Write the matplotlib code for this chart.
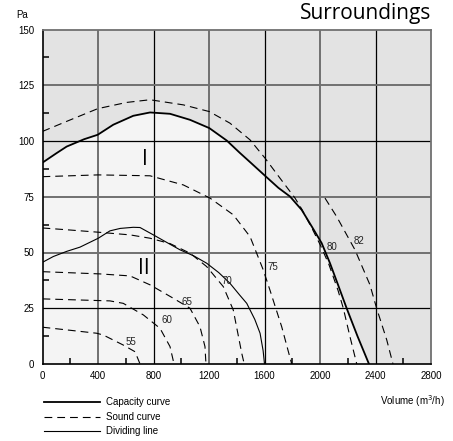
import matplotlib
matplotlib.use('Agg')
import matplotlib.pyplot as plt
from matplotlib.lines import Line2D

plt.rcParams['font.family'] = ['Liberation Sans', 'DejaVu Sans']

# capacity curve
cap_x = [0, 100, 174, 300, 398, 510, 654, 775, 919, 1063, 1202, 1328, 1420, 1500, 1604,
         1700, 1784, 1868, 1952, 2012, 2072, 2130, 2192, 2270, 2353]
cap_y = [90.3, 94.5, 97.5, 100.8, 102.8, 107.3, 111.3, 112.8, 112.2, 109.5, 105.8, 100.2,
         94.8, 90.3, 84.4, 79, 75.1, 69.1, 60.5, 54.2, 45.2, 35.5, 25, 12.5, 0]

# dividing line
div_x = [0, 78, 174, 270, 402, 486, 560, 654, 703, 799, 919, 991, 1090, 1183, 1270, 1351,
         1420, 1472, 1530, 1568, 1590, 1600]
div_y = [45.6, 48.2, 50.5, 52.4, 56.4, 59.7, 60.8, 61.3, 61.2, 57.9, 53.7, 51.2, 48.5, 45.2,
         41, 36.2, 31, 27.2, 20, 13.8, 6, 0]

# sound curves (dB)
s80_x = [0, 174, 398, 607, 775, 1015, 1202, 1351, 1496, 1555, 1604, 1712, 1820, 1868, 1945,
         2005, 2065, 2130, 2168, 2215, 2265]
s80_y = [104.3, 108.8, 114.5, 117.3, 118.5, 116.2, 113.2, 108, 100.5, 96, 92.3, 83.3, 74.4,
         69.5, 60.5, 53, 44.5, 33, 25, 12.5, 0]
s82_x = [2036, 2120, 2252, 2360, 2408, 2481, 2526]
s82_y = [74.4, 66.1, 51.2, 35.5, 25, 10.8, 0]
s75_x = [0, 400, 775, 1015, 1207, 1375, 1496, 1591, 1640, 1724, 1796]
s75_y = [84, 84.8, 84.4, 80.3, 74.4, 66.9, 57.1, 42.2, 33, 16.7, 0]
s70_x = [0, 174, 402, 631, 775, 919, 1063, 1183, 1303, 1375, 1436, 1454]
s70_y = [61, 60.2, 59.1, 57.9, 56.4, 54, 49.7, 43.7, 34.7, 24.2, 4.8, 0]
s65_x = [0, 414, 631, 775, 942, 1063, 1135, 1171, 1178]
s65_y = [41.4, 40.4, 39.5, 35.5, 29.5, 25, 16.7, 7.8, 0]
s60_x = [0, 486, 582, 727, 847, 919, 948]
s60_y = [29.2, 28.3, 27.2, 22, 16, 7.8, 0]
s55_x = [0, 390, 438, 582, 667, 703]
s55_y = [16.5, 13.8, 13, 8.5, 5.5, 0]

sound_curves = [(s80_x, s80_y), (s82_x, s82_y), (s75_x, s75_y), (s70_x, s70_y),
                (s65_x, s65_y), (s60_x, s60_y), (s55_x, s55_y)]

curve_labels = ['80', '82', '75', '70', '65', '60', '55']
label_x = [2084, 2282, 1663, 1327, 1039, 895, 638]
label_y = [52.6, 55.3, 43.4, 37.4, 27.7, 19.7, 10]

x_ticks = [0, 400, 800, 1200, 1600, 2000, 2400, 2800]
y_ticks = [0, 25, 50, 75, 100, 125, 150]
x_minor = [200, 600, 1000, 1400, 1800, 2200, 2600]
y_minor = [12.5, 37.5, 62.5, 87.5, 112.5, 137.5]

W, H = 453, 441
fig = plt.figure(figsize=(W / 100, H / 100), dpi=100)
ax = fig.add_axes([42.5 / W, 1 - 364 / H, (431 - 42.5) / W, (364 - 29.5) / H])
ax.set_xlim(0, 2800)
ax.set_ylim(0, 150)
ax.set_facecolor('#e3e3e3')

# light region under capacity curve
ax.fill_between(cap_x, cap_y, 0, color='#f4f4f4', zorder=0.5, lw=0)

# grid
for v in x_ticks[1:-1]:
    if v in (800, 1600, 2400):
        ax.axvline(v, color='black', lw=0.9, zorder=1)
    else:
        ax.axvline(v, color='#707070', lw=1.4, zorder=1)
for v in y_ticks[1:-1]:
    if v in (25, 100):
        ax.axhline(v, color='black', lw=0.9, zorder=1)
    else:
        ax.axhline(v, color='#707070', lw=1.4, zorder=1)

ax.plot(cap_x, cap_y, color='black', lw=1.3, zorder=3, solid_joinstyle='round')
ax.plot(div_x, div_y, color='black', lw=0.8, zorder=3, solid_joinstyle='round')
for sx, sy in sound_curves:
    ax.plot(sx, sy, color='black', lw=0.8, dashes=(7, 4.5), zorder=3)

for t, lx, ly in zip(curve_labels, label_x, label_y):
    ax.text(lx, ly, t, fontsize=7, color='#222222', ha='center', va='center', zorder=4)

ax.text(739, 91.5, 'I', fontsize=15, ha='center', va='center', zorder=4,
        family=['Open Sans', 'DejaVu Sans'])
ax.text(732, 43, 'II', fontsize=15, ha='center', va='center', zorder=4,
        family=['Open Sans', 'DejaVu Sans'])

# ticks
ax.set_xticks(x_ticks)
ax.set_yticks(y_ticks)
ax.set_xticks(x_minor, minor=True)
ax.set_yticks(y_minor, minor=True)
ax.tick_params(which='major', length=0, labelsize=7, pad=6)
ax.tick_params(axis='x', which='major', pad=5)
ax.tick_params(which='minor', direction='in', length=4, width=1.1, color='black')
for sp in ['left', 'bottom']:
    ax.spines[sp].set_color('black')
    ax.spines[sp].set_linewidth(1.2)
for sp in ['top', 'right']:
    ax.spines[sp].set_color('#707070')
    ax.spines[sp].set_linewidth(1.3)
for sp in ax.spines.values():
    sp.set_zorder(5)

fig.text(21.7 / W, 1 - 15 / H, 'Pa', fontsize=7, ha='center', va='center')
fig.text(431 / W, 1 - 13.5 / H, 'Surroundings', fontsize=15, ha='right', va='center',
         family=['Open Sans', 'DejaVu Sans'])
fig.text(445 / W, 1 - 401 / H, 'Volume (m$^3$/h)', fontsize=7, ha='right', va='center')

# legend
leg_text = ['Capacity curve', 'Sound curve', 'Dividing line']
leg_y = [402.3, 416.7, 430.7]
leg_style = [dict(lw=1.3), dict(lw=0.8, dashes=(7, 4.5)), dict(lw=0.8)]
for t, py, st in zip(leg_text, leg_y, leg_style):
    fig.add_artist(Line2D([44 / W, 100 / W], [1 - py / H, 1 - py / H], color='black', **st))
    fig.text(106.5 / W, 1 - py / H, t, fontsize=7, ha='left', va='center')

fig.savefig('out.png', dpi=100)
